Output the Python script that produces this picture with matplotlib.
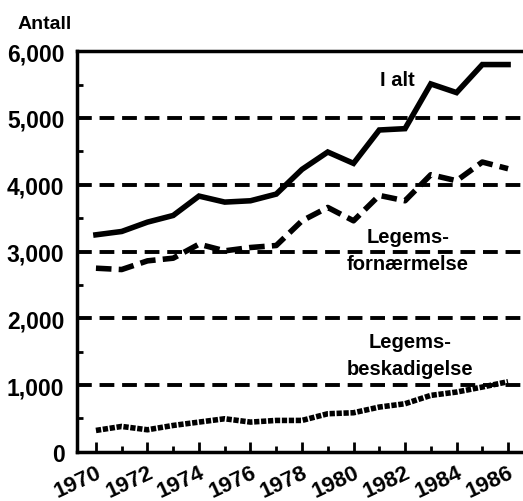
import numpy as np
import matplotlib
matplotlib.use('Agg')
import matplotlib.pyplot as plt
from matplotlib.ticker import MultipleLocator, FuncFormatter

plt.rcParams['font.family'] = ['Liberation Sans', 'DejaVu Sans']

# data
years = list(range(1970, 1987))
i_alt = [3250, 3300, 3440, 3540, 3830, 3740, 3760, 3860, 4230, 4490,
         4320, 4820, 4840, 5510, 5380, 5800, 5800]
fornaermelse = [2750, 2730, 2860, 2900, 3110, 3010, 3060, 3090, 3460, 3660,
                3460, 3840, 3760, 4150, 4060, 4340, 4240]
beskadigelse = [320, 380, 330, 395, 445, 495, 445, 470, 470, 570,
                585, 670, 720, 845, 895, 970, 1050]
tick_years = list(range(1970, 1987, 2))

fig = plt.figure(figsize=(5.23, 5.02), dpi=100)
ax = fig.add_axes([0.147, 0.098, 0.853, 0.798])

# gridlines
for v in [1000, 2000, 3000, 4000, 5000]:
    ax.axhline(v, color='black', lw=2.8, dashes=(3.8, 2.0), zorder=1)

ax.plot(years, i_alt, color='black', lw=4.0, solid_joinstyle='miter', zorder=3)
ax.plot(years, fornaermelse, color='black', lw=4.0, dashes=(2.8, 1.3), zorder=3)
ax.plot(years, beskadigelse, color='black', lw=4.0, dashes=(0.95, 0.3), zorder=3)

lab_kw = dict(fontsize=14.5, fontweight='bold', ha='center', va='center', linespacing=1.5)
ax.text(1981.7, 5570, 'I alt', **lab_kw)
ax.text(1982.1, 3020, 'Legems-\nfornærmelse', **lab_kw)
ax.text(1982.2, 1450, 'Legems-\nbeskadigelse', **lab_kw)

ax.set_xlim(1969.26, 1986.58)
ax.set_ylim(0, 6000)

ax.yaxis.set_major_locator(MultipleLocator(1000))
ax.yaxis.set_minor_locator(MultipleLocator(500))
ax.yaxis.set_major_formatter(FuncFormatter(lambda v, p: f'{int(v):,}'))
ax.set_xticks(tick_years)
ax.set_xticks(years, minor=True)
ax.set_xticklabels([str(y) for y in tick_years], rotation=25, ha='right',
                   rotation_mode='anchor', va='top')

ax.tick_params(axis='y', which='major', direction='in', length=0, labelsize=16.5, pad=9)
ax.tick_params(axis='y', which='minor', direction='in', length=4, width=2)
ax.tick_params(axis='x', which='major', direction='in', length=7, width=2,
               labelsize=16, pad=7)
ax.tick_params(axis='x', which='minor', direction='in', length=4, width=2)
for lab in ax.get_yticklabels() + ax.get_xticklabels():
    lab.set_fontweight('bold')

for s in ['left', 'bottom', 'top']:
    ax.spines[s].set_linewidth(2.5)
ax.spines['right'].set_visible(False)

fig.text(0.034, 0.952, 'Antall', fontsize=14, fontweight='bold', ha='left', va='center')

plt.savefig('out.png', dpi=100)
plt.close()
